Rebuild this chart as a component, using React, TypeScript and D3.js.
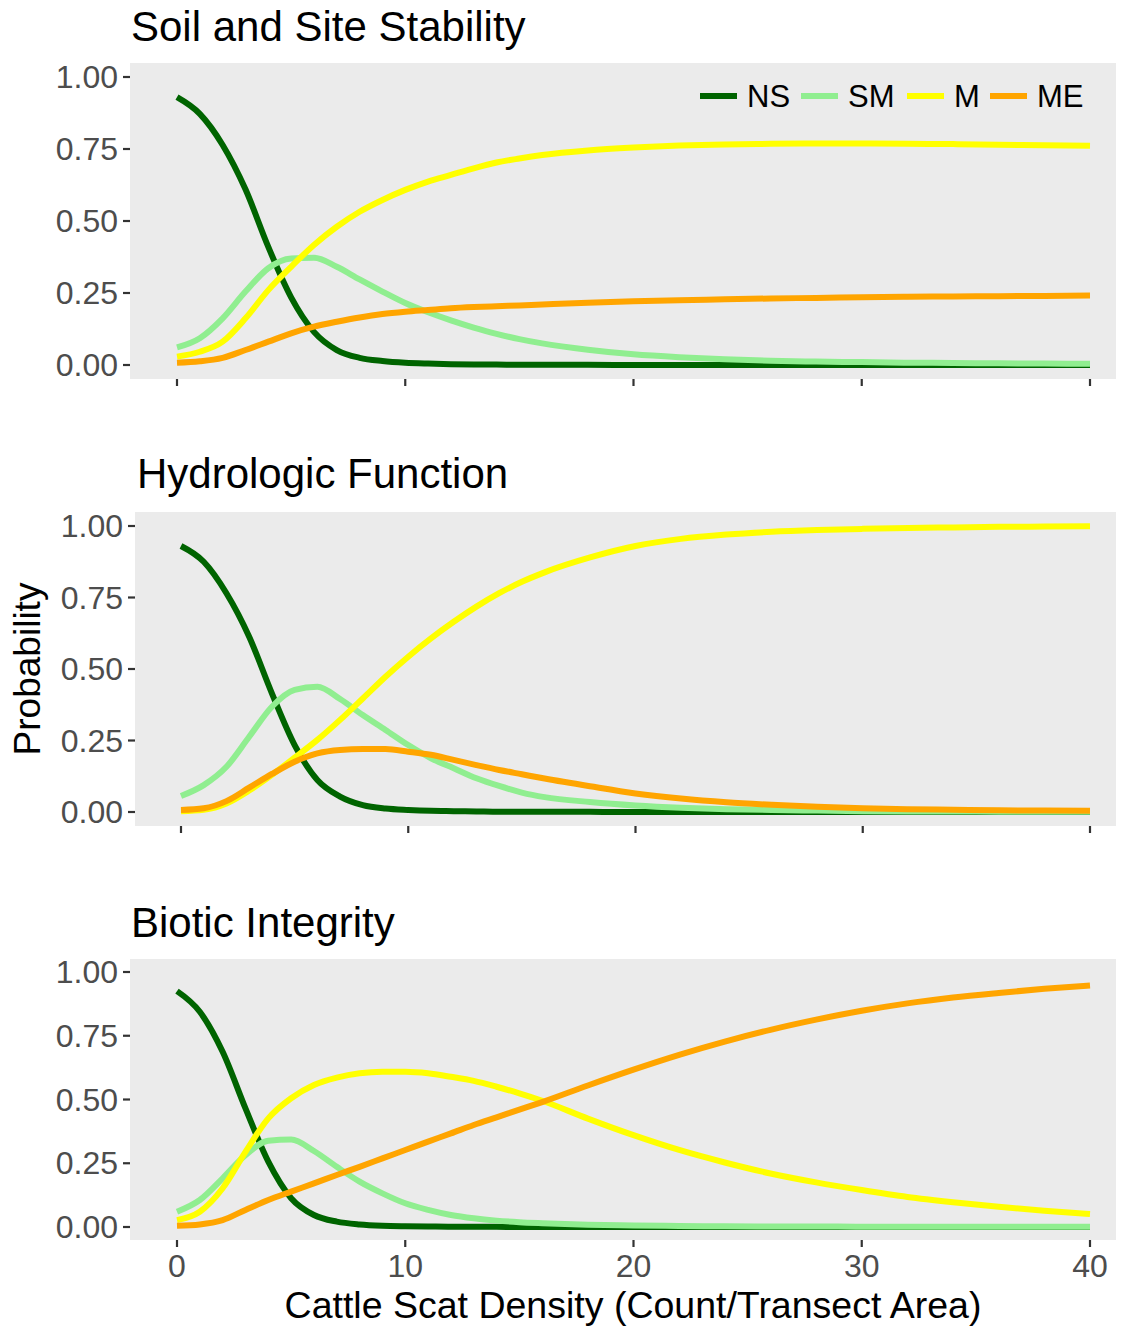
import React from "react";
import * as d3 from "d3";

// ---------- data ----------
const xValues = [0, 1, 2, 3, 4, 5, 6, 7, 8, 9, 10, 11, 12, 13, 14, 15, 16, 18, 20, 22, 24, 26, 28, 30, 32, 34, 36, 38, 40];

const seriesNames = ["NS", "SM", "M", "ME"];
const seriesColors = ["#006400", "#90EE90", "#FFFF00", "#FFA500"];

const yTicks = [0, 0.25, 0.5, 0.75, 1];
const xTicks = [0, 10, 20, 30, 40];

// Soil and Site Stability
const soilNS = [0.93, 0.872, 0.764, 0.61, 0.41, 0.235, 0.115, 0.052, 0.025, 0.014, 0.008, 0.005, 0.003, 0.002, 0.0015, 0.001, 0.001, 0.0005, 0, 0, 0, 0, 0, 0, 0, 0, 0, 0, 0];
const soilSM = [0.061, 0.093, 0.162, 0.255, 0.336, 0.37, 0.372, 0.341, 0.297, 0.255, 0.215, 0.183, 0.155, 0.13, 0.108, 0.09, 0.075, 0.053, 0.037, 0.027, 0.02, 0.015, 0.012, 0.01, 0.008, 0.007, 0.006, 0.005, 0.004];
const soilM = [0.029, 0.046, 0.081, 0.162, 0.26, 0.341, 0.417, 0.48, 0.532, 0.573, 0.608, 0.637, 0.66, 0.683, 0.703, 0.717, 0.729, 0.745, 0.755, 0.762, 0.766, 0.768, 0.769, 0.769, 0.768, 0.767, 0.765, 0.763, 0.761];
const soilME = [0.008, 0.013, 0.025, 0.052, 0.081, 0.11, 0.133, 0.15, 0.165, 0.177, 0.185, 0.191, 0.197, 0.201, 0.204, 0.207, 0.21, 0.216, 0.221, 0.225, 0.228, 0.231, 0.233, 0.235, 0.237, 0.238, 0.239, 0.24, 0.241];

// Hydrologic Function
const hydroNS = [0.93, 0.875, 0.765, 0.613, 0.415, 0.234, 0.112, 0.054, 0.024, 0.012, 0.007, 0.004, 0.003, 0.002, 0.001, 0.001, 0.001, 0.0005, 0, 0, 0, 0, 0, 0, 0, 0, 0, 0, 0];
const hydroSM = [0.056, 0.094, 0.158, 0.263, 0.368, 0.427, 0.438, 0.395, 0.339, 0.287, 0.234, 0.188, 0.153, 0.118, 0.091, 0.068, 0.052, 0.035, 0.023, 0.015, 0.01, 0.007, 0.005, 0.003, 0.002, 0.002, 0.001, 0.001, 0.001];
const hydroM = [0.003, 0.008, 0.03, 0.075, 0.13, 0.19, 0.252, 0.322, 0.397, 0.473, 0.543, 0.607, 0.665, 0.718, 0.765, 0.805, 0.838, 0.89, 0.93, 0.955, 0.97, 0.98, 0.986, 0.99, 0.993, 0.995, 0.997, 0.998, 0.999];
const hydroME = [0.007, 0.013, 0.038, 0.085, 0.133, 0.176, 0.205, 0.217, 0.22, 0.22, 0.211, 0.2, 0.182, 0.164, 0.147, 0.132, 0.117, 0.09, 0.065, 0.047, 0.034, 0.025, 0.018, 0.013, 0.01, 0.008, 0.006, 0.005, 0.004];

// Biotic Integrity
const bioticNS = [0.925, 0.844, 0.687, 0.465, 0.256, 0.113, 0.047, 0.021, 0.01, 0.005, 0.003, 0.002, 0.001, 0.001, 0.0005, 0, 0, 0, 0, 0, 0, 0, 0, 0, 0, 0, 0, 0, 0];
const bioticSM = [0.06, 0.106, 0.191, 0.282, 0.338, 0.343, 0.298, 0.236, 0.178, 0.132, 0.093, 0.067, 0.047, 0.034, 0.025, 0.019, 0.015, 0.009, 0.006, 0.004, 0.003, 0.002, 0.002, 0.001, 0.001, 0.001, 0.001, 0.001, 0.001];
const bioticM = [0.027, 0.06, 0.152, 0.295, 0.426, 0.505, 0.557, 0.586, 0.603, 0.609, 0.609, 0.603, 0.589, 0.573, 0.55, 0.524, 0.495, 0.425, 0.36, 0.302, 0.253, 0.21, 0.175, 0.145, 0.118, 0.097, 0.079, 0.064, 0.051];
const bioticME = [0.005, 0.01, 0.027, 0.067, 0.106, 0.139, 0.171, 0.204, 0.236, 0.269, 0.302, 0.335, 0.367, 0.4, 0.43, 0.46, 0.49, 0.555, 0.617, 0.675, 0.727, 0.773, 0.813, 0.848, 0.877, 0.9, 0.918, 0.934, 0.947];

const panelTitles = ["Soil and Site Stability", "Hydrologic Function", "Biotic Integrity"];
const panelSeries = [
  [soilNS, soilSM, soilM, soilME],
  [hydroNS, hydroSM, hydroM, hydroME],
  [bioticNS, bioticSM, bioticM, bioticME],
];

const xAxisTitle = "Cattle Scat Density (Count/Transect Area)";
const yAxisTitle = "Probability";

// ---------- layout ----------
const W = 1128;
const H = 1327;
const FONT = "'Liberation Sans', Arial, Helvetica, sans-serif";

const layouts = [
  { left: 130, right: 1116, top: 63, bottom: 379, x0: 177, x1: 1090, y0: 365, y1: 77, titleX: 131, titleY: 41 },
  { left: 135, right: 1116, top: 512, bottom: 826, x0: 181, x1: 1090, y0: 812, y1: 526, titleX: 137, titleY: 488 },
  { left: 130, right: 1116, top: 959, bottom: 1240, x0: 177, x1: 1090, y0: 1227, y1: 972, titleX: 131, titleY: 937 },
];

const legendKeyX = [700, 801, 907, 990];

function Panel({ idx }: { idx: number }) {
  const L = layouts[idx];
  const x = d3.scaleLinear().domain([0, 40]).range([L.x0, L.x1]);
  const y = d3.scaleLinear().domain([0, 1]).range([L.y0, L.y1]);
  const fmt = d3.format(".2f");
  const showX = idx === 2;

  return (
    <g>
      <text x={L.titleX} y={L.titleY} fontSize={42} fill="#000" fontFamily={FONT}>
        {panelTitles[idx]}
      </text>
      <rect x={L.left} y={L.top} width={L.right - L.left} height={L.bottom - L.top} fill="#EBEBEB" />
      {panelSeries[idx].map((vals, si) => {
        const line = d3
          .line<number>()
          .x((_, i) => x(xValues[i]))
          .y((v) => y(v))
          .curve(d3.curveMonotoneX);
        return (
          <path
            key={si}
            d={line(vals) || ""}
            fill="none"
            stroke={seriesColors[si]}
            strokeWidth={6}
            strokeLinejoin="round"
            strokeLinecap="butt"
          />
        );
      })}
      {yTicks.map((t) => (
        <g key={"y" + t}>
          <line x1={L.left - 7} x2={L.left} y1={y(t)} y2={y(t)} stroke="#333" strokeWidth={2.2} />
          <text
            x={L.left - 12}
            y={y(t)}
            fontSize={32}
            fill="#4D4D4D"
            textAnchor="end"
            dominantBaseline="central"
            fontFamily={FONT}
          >
            {fmt(t)}
          </text>
        </g>
      ))}
      {xTicks.map((t) => (
        <g key={"x" + t}>
          <line x1={x(t)} x2={x(t)} y1={L.bottom} y2={L.bottom + 7} stroke="#333" strokeWidth={2.2} />
          {showX && (
            <text x={x(t)} y={L.bottom + 37} fontSize={32} fill="#4D4D4D" textAnchor="middle" fontFamily={FONT}>
              {t}
            </text>
          )}
        </g>
      ))}
      {idx === 0 &&
        seriesNames.map((name, si) => (
          <g key={name}>
            <line
              x1={legendKeyX[si]}
              x2={legendKeyX[si] + 37}
              y1={96}
              y2={96}
              stroke={seriesColors[si]}
              strokeWidth={6}
            />
            <text x={legendKeyX[si] + 47} y={107} fontSize={31} fill="#000" fontFamily={FONT}>
              {name}
            </text>
          </g>
        ))}
    </g>
  );
}

export default function App() {
  return (
    <svg
      width={W}
      height={H}
      viewBox={`0 0 ${W} ${H}`}
      style={{ position: "absolute", left: 0, top: 0, background: "#fff" }}
    >
      <rect x={0} y={0} width={W} height={H} fill="#fff" />
      {[0, 1, 2].map((i) => (
        <Panel key={i} idx={i} />
      ))}
      <text x={633} y={1318} fontSize={37.5} textAnchor="middle" fill="#000" fontFamily={FONT}>
        {xAxisTitle}
      </text>
      <text
        transform={`translate(40, 669) rotate(-90)`}
        fontSize={37}
        textAnchor="middle"
        fill="#000"
        fontFamily={FONT}
      >
        {yAxisTitle}
      </text>
    </svg>
  );
}
